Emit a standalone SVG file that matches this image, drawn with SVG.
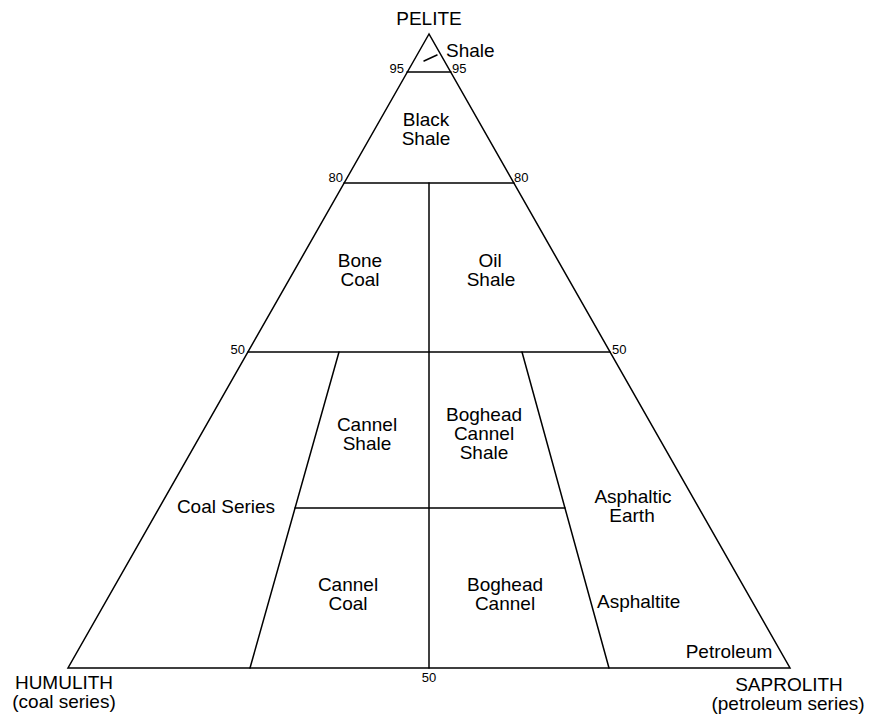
<svg xmlns="http://www.w3.org/2000/svg" width="876" height="718" viewBox="0 0 876 718">
<style>
.ln{stroke:#000;stroke-width:1.5;fill:none;stroke-linecap:round;stroke-linejoin:miter}
.t{font-family:"Liberation Sans",Arial,sans-serif;font-size:19px;fill:#000;text-anchor:middle}
.n{font-family:"Liberation Sans",Arial,sans-serif;font-size:13px;fill:#000}
</style>
<rect width="876" height="718" fill="#fff"/>
<g id="connectors">
<polygon class="ln" points="429,34 68,668 790,668"/>
<line class="ln" x1="407" y1="72" x2="451" y2="72"/>
<line class="ln" x1="344" y1="183" x2="514" y2="183"/>
<line class="ln" x1="248" y1="352" x2="610" y2="352"/>
<line class="ln" x1="429" y1="183" x2="429" y2="668"/>
<line class="ln" x1="339" y1="352" x2="250" y2="668"/>
<line class="ln" x1="522" y1="352" x2="609" y2="668"/>
<line class="ln" x1="295" y1="508" x2="565" y2="508"/>
<line class="ln" x1="424" y1="61" x2="437" y2="55"/>
</g>
<g id="pelite"><text class="t" x="429" y="25">PELITE</text></g>
<g id="humulith"><text class="t" x="64" y="689">HUMULITH</text><text class="t" x="64" y="708">(coal series)</text></g>
<g id="saprolith"><text class="t" x="789" y="691">SAPROLITH</text><text class="t" x="788" y="710">(petroleum series)</text></g>
<g id="shale"><text class="t" x="446" y="57" style="text-anchor:start">Shale</text></g>
<g id="black-shale"><text class="t" x="426" y="126">Black</text><text class="t" x="426" y="145">Shale</text></g>
<g id="bone-coal"><text class="t" x="360" y="267">Bone</text><text class="t" x="360" y="286">Coal</text></g>
<g id="oil-shale"><text class="t" x="490" y="267">Oil</text><text class="t" x="491" y="286">Shale</text></g>
<g id="cannel-shale"><text class="t" x="367" y="431">Cannel</text><text class="t" x="367" y="450">Shale</text></g>
<g id="boghead-cannel-shale"><text class="t" x="484" y="421">Boghead</text><text class="t" x="484" y="440">Cannel</text><text class="t" x="484" y="459">Shale</text></g>
<g id="coal-series"><text class="t" x="226" y="513">Coal Series</text></g>
<g id="asphaltic-earth"><text class="t" x="633" y="503">Asphaltic</text><text class="t" x="632" y="522">Earth</text></g>
<g id="cannel-coal"><text class="t" x="348" y="591">Cannel</text><text class="t" x="348" y="610">Coal</text></g>
<g id="boghead-cannel"><text class="t" x="505" y="591">Boghead</text><text class="t" x="505" y="610">Cannel</text></g>
<g id="asphaltite"><text class="t" x="597" y="608" style="text-anchor:start">Asphaltite</text></g>
<g id="petroleum"><text class="t" x="729" y="658">Petroleum</text></g>
<g id="ticks">
<text class="n" x="404" y="73" text-anchor="end">95</text>
<text class="n" x="452" y="73">95</text>
<text class="n" x="343" y="182" text-anchor="end">80</text>
<text class="n" x="514" y="182">80</text>
<text class="n" x="245" y="354" text-anchor="end">50</text>
<text class="n" x="612" y="354">50</text>
<text class="n" x="429" y="682" text-anchor="middle">50</text>
</g>
</svg>
